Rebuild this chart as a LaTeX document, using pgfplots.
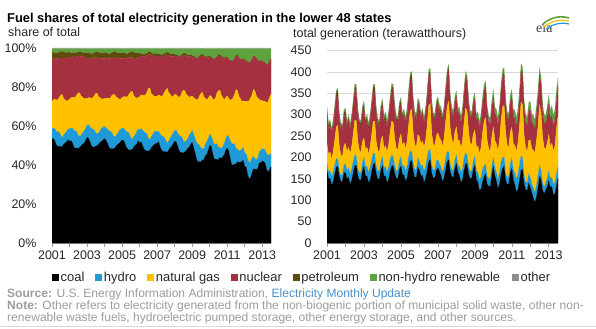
\documentclass[border=0pt]{standalone}
\usepackage{pgfplots}
\pgfplotsset{compat=1.18}
\usepackage{pgfplotstable}
\usepackage{fontspec}
\setmainfont{Liberation Sans}
\newfontfamily\logofont{Liberation Serif}
\definecolor{coal}{HTML}{000000}
\definecolor{hydro}{HTML}{1F9AD6}
\definecolor{gas}{HTML}{FFC000}
\definecolor{nuc}{HTML}{A5303F}
\definecolor{pet}{HTML}{5E4C0C}
\definecolor{ren}{HTML}{5EA23E}
\definecolor{oth}{HTML}{8C8C8C}
\definecolor{txt}{HTML}{262626}
\definecolor{srcgray}{HTML}{9C9C9C}
\definecolor{linkblue}{HTML}{4A90C8}

% monthly generation, lower 48 states, TWh: Jan 2001 - Jul 2013
\pgfplotstableread{
C H G N P R O
170 17 44 67 14 5.5 1
151 15 41 60 8.6 5.2 1
151 18 44 61 8.1 5.8 1
135 19 43 57 7.6 6.1 1
143 22 48 61 8.1 6.1 1
160 23 58 65 9.5 5.8 1
177 20 74 68 11.9 5.2 1
179 17 80 68 12.4 5.0 1
155 14 57 64 9.5 5.0 1
144 14 48 60 8.1 5.2 1
144 15 43 61 8.1 5.5 1
165 17 46 67 10.5 5.5 1
165 20 48 68 8 6 1
150 19 44 60 6.3 5.7 1
154 22 48 62 6 6.3 1
138 24 47 58 5.6 6.6 1
146 27 52 62 6 6.6 1
163 28 64 66 7 6.3 1
181 25 81 70 8.8 5.7 1
182 21 83 70 9.1 5.4 1
158 17 63 65 7 5.4 1
147 17 53 60 6 5.7 1
147 18 47 62 6 6 1
168 20 50 68 7.7 6 1
180 21 45 67 12 6.5 1
157 20 41 59 8.1 6.2 1
156 23 45 61 7.7 6.8 1
140 25 43 57 7.2 7.2 1
148 28 49 61 7.7 7.2 1
166 29 59 65 9 6.8 1
184 26 75 68 11.3 6.2 1
186 22 77 68 11.7 5.9 1
161 18 58 64 9 5.9 1
150 18 49 59 7.7 6.2 1
150 19 43 60 7.7 6.5 1
171 21 47 67 9.9 6.5 1
181 21 49 69 10.4 6.8 1
157 19 45 61 8.1 6.5 1
157 22 49 63 7.7 7.1 1
141 24 48 58 7.2 7.5 1
149 28 53 63 7.7 7.5 1
167 29 65 67 9 7.1 1
180 25 80 70 11.3 6.5 1
181 21 80 70 11.7 6.1 1
162 18 64 66 9 6.1 1
151 17 54 61 7.7 6.5 1
151 19 48 62 7.7 6.8 1
172 21 51 69 9.9 6.8 1
180 21 54 68 10.4 7 1
160 19 49 60 8.1 6.7 1
160 22 54 62 7.7 7.4 1
144 24 52 58 7.2 7.7 1
152 28 58 62 7.7 7.7 1
172 29 75 66 9 7.4 1
190 25 93 70 11.3 6.7 1
193 21 99 70 11.7 6.3 1
168 18 72 65 11 6.3 1
154 17 59 60 10 6.7 1
154 19 52 62 8 7 1
178 21 55 68 9.9 7 1
170 22 57 69 5.2 7.8 1
158 21 52 61 4 7.4 1
158 24 57 63 3.8 8.2 1
142 26 55 58 3.6 8.6 1
150 29 62 63 3.8 8.6 1
168 31 75 67 4.5 8.2 1
190 27 104 70 5.6 7.4 1
195 23 108 70 5.9 7 1
163 19 74 66 4.5 7 1
152 18 62 61 3.8 7.4 1
152 20 55 62 3.8 7.8 1
170 22 59 69 5 7.8 1
176 19 63 70 5.4 8.6 1
168 18 60 62 6.5 8.2 1
158 20 63 64 4 9 1
143 22 61 60 3.8 9.5 1
152 25 68 64 4 9.5 1
172 26 85 68 4.7 9 1
190 23 106 72 5.9 8.2 1
195 19 118 72 6.1 7.7 1
167 16 86 67 4.7 7.7 1
156 16 72 62 4 8.2 1
153 17 61 64 4 8.6 1
175 19 65 70 5.2 8.6 1
186 20 66 70 3.5 10.3 1
165 18 58 62 2.7 9.8 1
158 21 60 64 2.6 10.8 1
141 23 58 60 2.4 11.3 1
148 27 65 64 2.6 11.3 1
170 29 84 68 3 10.8 1
186 25 105 72 3.8 9.8 1
184 20 103 72 3.9 9.3 1
160 17 80 67 3 9.3 1
150 16 68 62 2.6 9.8 1
152 18 60 64 2.6 10.3 1
172 20 64 70 3.3 10.3 1
182 21 62 70 3.5 12 1
148 20 57 62 2.3 11.4 1
142 23 62 64 2.1 12.6 1
122 25 62 59 2 13.2 1
126 28 69 64 2.1 13.2 1
143 29 86 68 2.5 12.6 1
155 26 104 71 3.1 11.4 1
162 22 110 71 3.2 10.8 1
137 18 86 66 2.5 10.8 1
133 18 70 62 2.1 11.4 1
133 19 62 63 2.1 12 1
158 21 69 70 2.8 12 1
180 20 72 70 3 13.8 1
158 18 64 62 2.1 13.1 1
145 21 66 64 2 14.5 1
127 22 67 60 1.8 15.2 1
138 25 76 64 2 15.2 1
160 30 97 68 2.3 14.5 1
174 26 118 72 2.9 13.1 1
180 21 121 72 3 12.4 1
148 17 93 67 2.3 12.4 1
136 16 77 62 2 13.1 1
138 18 68 64 2 13.8 1
165 20 74 70 2.5 13.8 1
175 24 72 70 2.2 15.5 1
148 22 62 62 1.6 16 1
136 28 64 63 1.4 17.5 1
118 31 66 56 1.4 19 1
126 35 74 60 1.4 18.5 1
146 37 92 66 1.7 17 1
170 34 126 72 2.1 14.5 1
172 27 124 72 2.2 14 1
138 20 94 66 1.7 14 1
125 18 80 60 1.4 15.5 1
123 19 72 62 1.4 16.5 1
140 22 78 70 1.8 16.5 1
130 23 88 70 1.3 18 1
118 20 82 62 1.1 18 1
105 24 88 60 1 20 1
95 24 92 55 1 21 1
108 27 105 60 1.1 20 1
128 29 115 65 1.3 19 1
156 26 142 68 1.6 16 1
148 21 135 69 1.5 15 1
124 16 108 63 1.2 15.5 1
115 16 92 58 1 17.5 1
123 17 80 58 1 18.5 1
132 20 82 65 1.3 19 1
146 22 86 70 1.5 21 1
130 20 76 62 1.3 21 1
132 22 80 63 1.2 23 1
113 24 78 57 1.1 25 1
114 27 86 60 1.1 24 1
135 27 106 66 1.4 22 1
152 26 118 70 1.7 19 1
}\gen

\newcommand{\totrow}{(\thisrow{C}+\thisrow{H}+\thisrow{G}+\thisrow{N}+\thisrow{P}+\thisrow{R}+\thisrow{O})}
\newcommand{\legsq}[1]{{\color{#1}\rule{7bp}{7bp}}\hspace{1.5bp}}

\pgfplotsset{
  eia/.style={
    scale only axis, anchor=south west,
    xmin=0, xmax=150,
    stack plots=y, no markers,
    axis x line*=bottom, axis y line*=left,
    y axis line style={draw=none},
    x axis line style={draw=black!40, line width=0.6bp},
    xtick={0,24,48,72,96,120,144},
    xticklabels={2001,2003,2005,2007,2009,2011,2013},
    minor xtick={12,36,60,84,108,132},
    tick align=outside,
    major tick length=4bp, minor tick length=4bp,
    every tick/.style={draw=black!40, line width=0.6bp},
    every minor tick/.style={draw=black!40, line width=0.6bp},
    ytick style={draw=none},
    tick label style={font=\fontsize{12.5}{14}\selectfont, text=txt},
    yticklabel style={xshift=-8bp},
  },
  ar/.style={fill=#1, draw=#1, line width=0.1bp},
  af/.style={fill=#1, draw=none},
}

\begin{document}
\begin{tikzpicture}[x=1bp,y=1bp]
\path[use as bounding box] (0,0) rectangle (596,328);

\begin{axis}[eia, at={(52bp,85bp)}, width=219bp, height=195bp,
  ymin=0, ymax=100, ytick={0,20,40,60,80,100},
  yticklabels={0\%,20\%,40\%,60\%,80\%,100\%}]
\addplot[ar=coal]  table[x expr=\coordindex, y expr={100*\thisrow{C}/\totrow}] {\gen} \closedcycle;
\addplot[ar=hydro] table[x expr=\coordindex, y expr={100*\thisrow{H}/\totrow}] {\gen} \closedcycle;
\addplot[ar=gas]   table[x expr=\coordindex, y expr={100*\thisrow{G}/\totrow}] {\gen} \closedcycle;
\addplot[ar=nuc]   table[x expr=\coordindex, y expr={100*\thisrow{N}/\totrow}] {\gen} \closedcycle;
\addplot[af=pet]   table[x expr=\coordindex, y expr={100*\thisrow{P}/\totrow}] {\gen} \closedcycle;
\addplot[af=ren]   table[x expr=\coordindex, y expr={100*\thisrow{R}/\totrow}] {\gen} \closedcycle;
\addplot[af=oth]   table[x expr=\coordindex, y expr={100*\thisrow{O}/\totrow}] {\gen} \closedcycle;
\end{axis}

\begin{axis}[eia, at={(327bp,85bp)}, width=231bp, height=192.5bp,
  ymin=0, ymax=450, ytick={0,50,100,150,200,250,300,350,400,450},
  yticklabels={0,50,100,150,200,250,300,350,400,450},
  ymajorgrids, grid style={draw=black!15, line width=0.6bp}]
\addplot[ar=coal]  table[x expr=\coordindex, y=C] {\gen} \closedcycle;
\addplot[ar=hydro] table[x expr=\coordindex, y=H] {\gen} \closedcycle;
\addplot[ar=gas]   table[x expr=\coordindex, y=G] {\gen} \closedcycle;
\addplot[ar=nuc]   table[x expr=\coordindex, y=N] {\gen} \closedcycle;
\addplot[af=pet]   table[x expr=\coordindex, y=P] {\gen} \closedcycle;
\addplot[af=ren]   table[x expr=\coordindex, y=R] {\gen} \closedcycle;
\addplot[af=oth]   table[x expr=\coordindex, y=O] {\gen} \closedcycle;
\end{axis}

% titles
\node[anchor=base west, inner sep=0, font=\bfseries\fontsize{12.9}{14}\selectfont, text=black] at (7,306) {Fuel shares of total electricity generation in the lower 48 states};
\node[anchor=base west, inner sep=0, font=\fontsize{12.5}{14}\selectfont, text=txt] at (8,292) {share of total};
\node[anchor=base west, inner sep=0, font=\fontsize{12.5}{14}\selectfont, text=txt] at (293,290.5) {total generation (terawatthours)};

% legend
\node[anchor=base west, inner sep=0, font=\fontsize{13}{15}\selectfont, text=txt] at (52,47)
  {\legsq{coal}coal\hspace{11bp}\legsq{hydro}hydro\hspace{11bp}\legsq{gas}natural gas\hspace{11bp}\legsq{nuc}nuclear\hspace{11bp}\legsq{pet}petroleum\hspace{11bp}\legsq{ren}non-hydro renewable\hspace{12bp}\legsq{oth}other};

% source and note
\node[anchor=base west, inner sep=0, font=\fontsize{12.1}{13}\selectfont, text=srcgray] at (7,31)
  {\textbf{Source:} U.S. Energy Information Administration, {\color{linkblue}Electricity Monthly Update}};
\node[anchor=base west, inner sep=0, font=\fontsize{12.1}{13}\selectfont, text=srcgray] at (7,19)
  {\textbf{Note:} Other refers to electricity generated from the non-biogenic portion of municipal solid waste, other non-};
\node[anchor=base west, inner sep=0, font=\fontsize{12.1}{13}\selectfont, text=srcgray] at (7,7)
  {renewable waste fuels, hydroelectric pumped storage, other energy storage, and other sources.};
\draw[black!15, line width=0.6bp] (0,2) -- (596,2);

% eia logo
\node[anchor=base west, inner sep=0, font=\logofont\fontsize{14}{14}\selectfont, text=black!75] at (536,296) {eia};
\draw[line width=1.6bp, ren] (542,303) .. controls (549,310) and (559,313) .. (569,310);
\draw[line width=1.2bp, gas] (544,301) .. controls (551,307) and (560,309) .. (569,307);
\draw[line width=1.2bp, hydro] (546,299) .. controls (553,304) and (561,306) .. (569,304);
\end{tikzpicture}
\end{document}
